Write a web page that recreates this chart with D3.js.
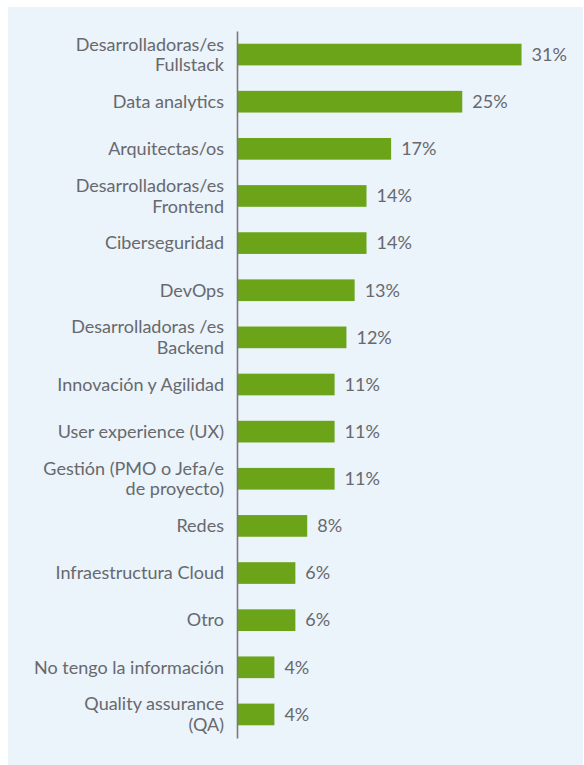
<!DOCTYPE html>
<html>
<head>
<meta charset="utf-8">
<script src="https://cdn.jsdelivr.net/npm/d3@7"></script>
<style>
  html, body { margin: 0; padding: 0; background: #ffffff; }
  svg { display: block; }
</style>
</head>
<body>
<svg id="chart" width="584" height="765"></svg>
<script>
const categories = [
  "Desarrolladoras/es\nFullstack",
  "Data analytics",
  "Arquitectas/os",
  "Desarrolladoras/es\nFrontend",
  "Ciberseguridad",
  "DevOps",
  "Desarrolladoras /es\nBackend",
  "Innovación y Agilidad",
  "User experience (UX)",
  "Gestión (PMO o Jefa/e\nde proyecto)",
  "Redes",
  "Infraestructura Cloud",
  "Otro",
  "No tengo la información",
  "Quality assurance\n(QA)"
];
const values = [31.2, 24.7, 16.9, 14.2, 14.2, 12.9, 12.0, 10.7, 10.7, 10.7, 7.7, 6.4, 6.4, 4.1, 4.1];
const valueLabels = ["31%", "25%", "17%", "14%", "14%", "13%", "12%", "11%", "11%", "11%", "8%", "6%", "6%", "4%", "4%"];

const svg = d3.select("#chart");
const W = 584, H = 765;
const FONT = "Lato, 'Open Sans', sans-serif";
const fs = 18;
const textColor = "#67696c";
const barColor = "#6ca419";

// panel background
svg.append("rect").attr("x", 8).attr("y", 7).attr("width", W - 9).attr("height", H - 7).attr("fill", "#ebf3fb");

const axisX = 237;
const y = d3.scaleBand()
  .domain(categories)
  .range([31, 738])
  .paddingInner(0.54)
  .paddingOuter(0.27);

const x = d3.scaleLinear().domain([0, 35]).range([axisX, axisX + 35 * 9.12]);

// bars
svg.append("g").selectAll("rect")
  .data(categories)
  .join("rect")
  .attr("x", x(0))
  .attr("y", d => y(d))
  .attr("width", (d, i) => x(values[i]) - x(0))
  .attr("height", y.bandwidth())
  .attr("fill", barColor);

// axis line
const axisG = svg.append("g").attr("transform", `translate(${axisX},0)`)
  .call(d3.axisLeft(y).tickSize(0).tickFormat(""));
axisG.select(".domain").attr("stroke", "#7a7a7a").attr("stroke-width", 1.6);

// category labels
const capH = fs * 0.7;
const lh = 20.7;
const labG = svg.append("g")
  .attr("font-family", FONT).attr("font-size", fs).attr("fill", textColor)
  .attr("text-anchor", "end");
categories.forEach((c, i) => {
  const lines = c.split("\n");
  const cy = y(c) + y.bandwidth() / 2;
  const b0 = cy + capH / 2 - (lines.length - 1) * lh / 2;
  const t = labG.append("text").attr("x", axisX - 13);
  lines.forEach((ln, j) => {
    t.append("tspan").attr("x", axisX - 13).attr("y", b0 + j * lh).text(ln);
  });
});

// value labels
svg.append("g")
  .attr("font-family", FONT).attr("font-size", fs).attr("fill", textColor)
  .selectAll("text")
  .data(categories)
  .join("text")
  .attr("x", (d, i) => x(values[i]) + 10)
  .attr("y", d => y(d) + y.bandwidth() / 2 + capH / 2)
  .text((d, i) => valueLabels[i]);
</script>
</body>
</html>
